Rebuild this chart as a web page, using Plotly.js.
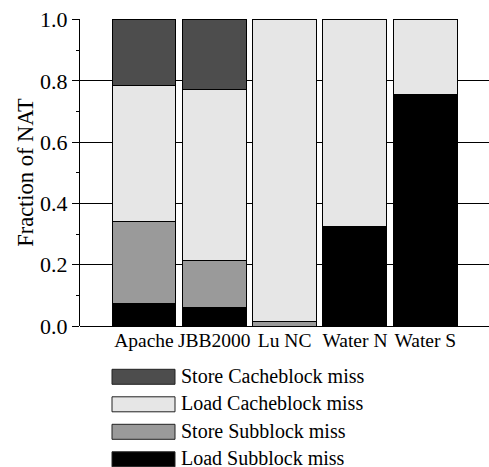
<!DOCTYPE html>
<html>
<head>
<meta charset="utf-8">
<script src="https://cdn.plot.ly/plotly-3.0.1.min.js"></script>
<style>
  html, body { margin: 0; padding: 0; background: #fff; }
  #chart { width: 489px; height: 467px; }
</style>
</head>
<body>
<div id="chart"></div>
<script>
// Workloads along the x axis
const workloads = ["Apache", "JBB2000", "Lu NC", "Water N", "Water S"];

// Fraction of NAT per miss type (stacked bottom to top)
const loadSubblock = [0.072, 0.062, 0.0, 0.326, 0.756];
const storeSubblock = [0.268, 0.153, 0.016, 0.0, 0.0];
const loadCacheblock = [0.446, 0.556, 0.984, 0.674, 0.244];
const storeCacheblock = [0.214, 0.229, 0.0, 0.0, 0.0];

const seriesNames = ["Load Subblock miss", "Store Subblock miss", "Load Cacheblock miss", "Store Cacheblock miss"];
const seriesColors = ["#000000", "#9a9a9a", "#e6e6e6", "#4d4d4d"];
const seriesValues = [loadSubblock, storeSubblock, loadCacheblock, storeCacheblock];

const yTickVals = [0, 0.2, 0.4, 0.6, 0.8, 1.0];

const FONT = "'Liberation Serif', 'Times New Roman', serif";

const traces = seriesValues.map((vals, i) => ({
  type: "bar",
  name: seriesNames[i],
  x: workloads,
  y: vals,
  marker: { color: seriesColors[i], line: { color: "#000", width: 1 } },
  showlegend: false,
  hoverinfo: "x+y+name"
}));

// Plot area geometry in pixels (used to place the legend swatches below the axes)
const W = 489, H = 467;
const M = { l: 80, r: 0, t: 19, b: 141 };
const plotW = W - M.l - M.r, plotH = H - M.t - M.b;
const toPaperX = px => (px - M.l) / plotW;
const toPaperY = py => (H - M.b - py) / plotH;

// Legend drawn as large swatches, top entry first
const legendOrder = [3, 2, 1, 0];
const shapes = [];
const annotations = [];
legendOrder.forEach((si, k) => {
  const top = 369.3 + k * 27.5;
  shapes.push({
    type: "rect", xref: "paper", yref: "paper",
    x0: toPaperX(112), x1: toPaperX(175),
    y0: toPaperY(top + 15), y1: toPaperY(top),
    fillcolor: seriesColors[si],
    line: { color: "#222", width: 1 }
  });
  annotations.push({
    xref: "paper", yref: "paper",
    x: toPaperX(179), y: toPaperY(top + 6.5),
    xanchor: "left", yanchor: "middle",
    text: seriesNames[si], showarrow: false,
    font: { family: FONT, size: 20, color: "#000" }
  });
});

const layout = {
  width: W, height: H,
  margin: M,
  barmode: "stack",
  bargap: 0.09,
  paper_bgcolor: "#fff",
  plot_bgcolor: "#fff",
  showlegend: false,
  font: { family: FONT, size: 19.5, color: "#000" },
  xaxis: {
    type: "category",
    range: [-0.91, 4.906],
    showline: false,
    ticks: "",
    showgrid: false,
    zeroline: false,
    tickfont: { family: FONT, size: 19.5, color: "#000" },
    ticklabelstandoff: 0
  },
  yaxis: {
    range: [0, 1.002],
    tickvals: yTickVals,
    tickformat: ".1f",
    ticks: "outside",
    ticklen: 7,
    tickwidth: 1,
    tickcolor: "#000",
    showline: true,
    linecolor: "#000",
    linewidth: 1,
    showgrid: true,
    gridcolor: "#000",
    gridwidth: 1,
    zeroline: true,
    zerolinecolor: "#000",
    zerolinewidth: 1,
    minor: { dtick: 0.1, ticks: "outside", ticklen: 3, tickcolor: "#000", showgrid: false },
    tickfont: { family: FONT, size: 22, color: "#000" },
    title: { text: "Fraction of NAT", font: { family: FONT, size: 22.5, color: "#000" }, standoff: 0 }
  },
  shapes: shapes,
  annotations: annotations
};

Plotly.newPlot("chart", traces, layout, { displayModeBar: false, staticPlot: true });
</script>
</body>
</html>
